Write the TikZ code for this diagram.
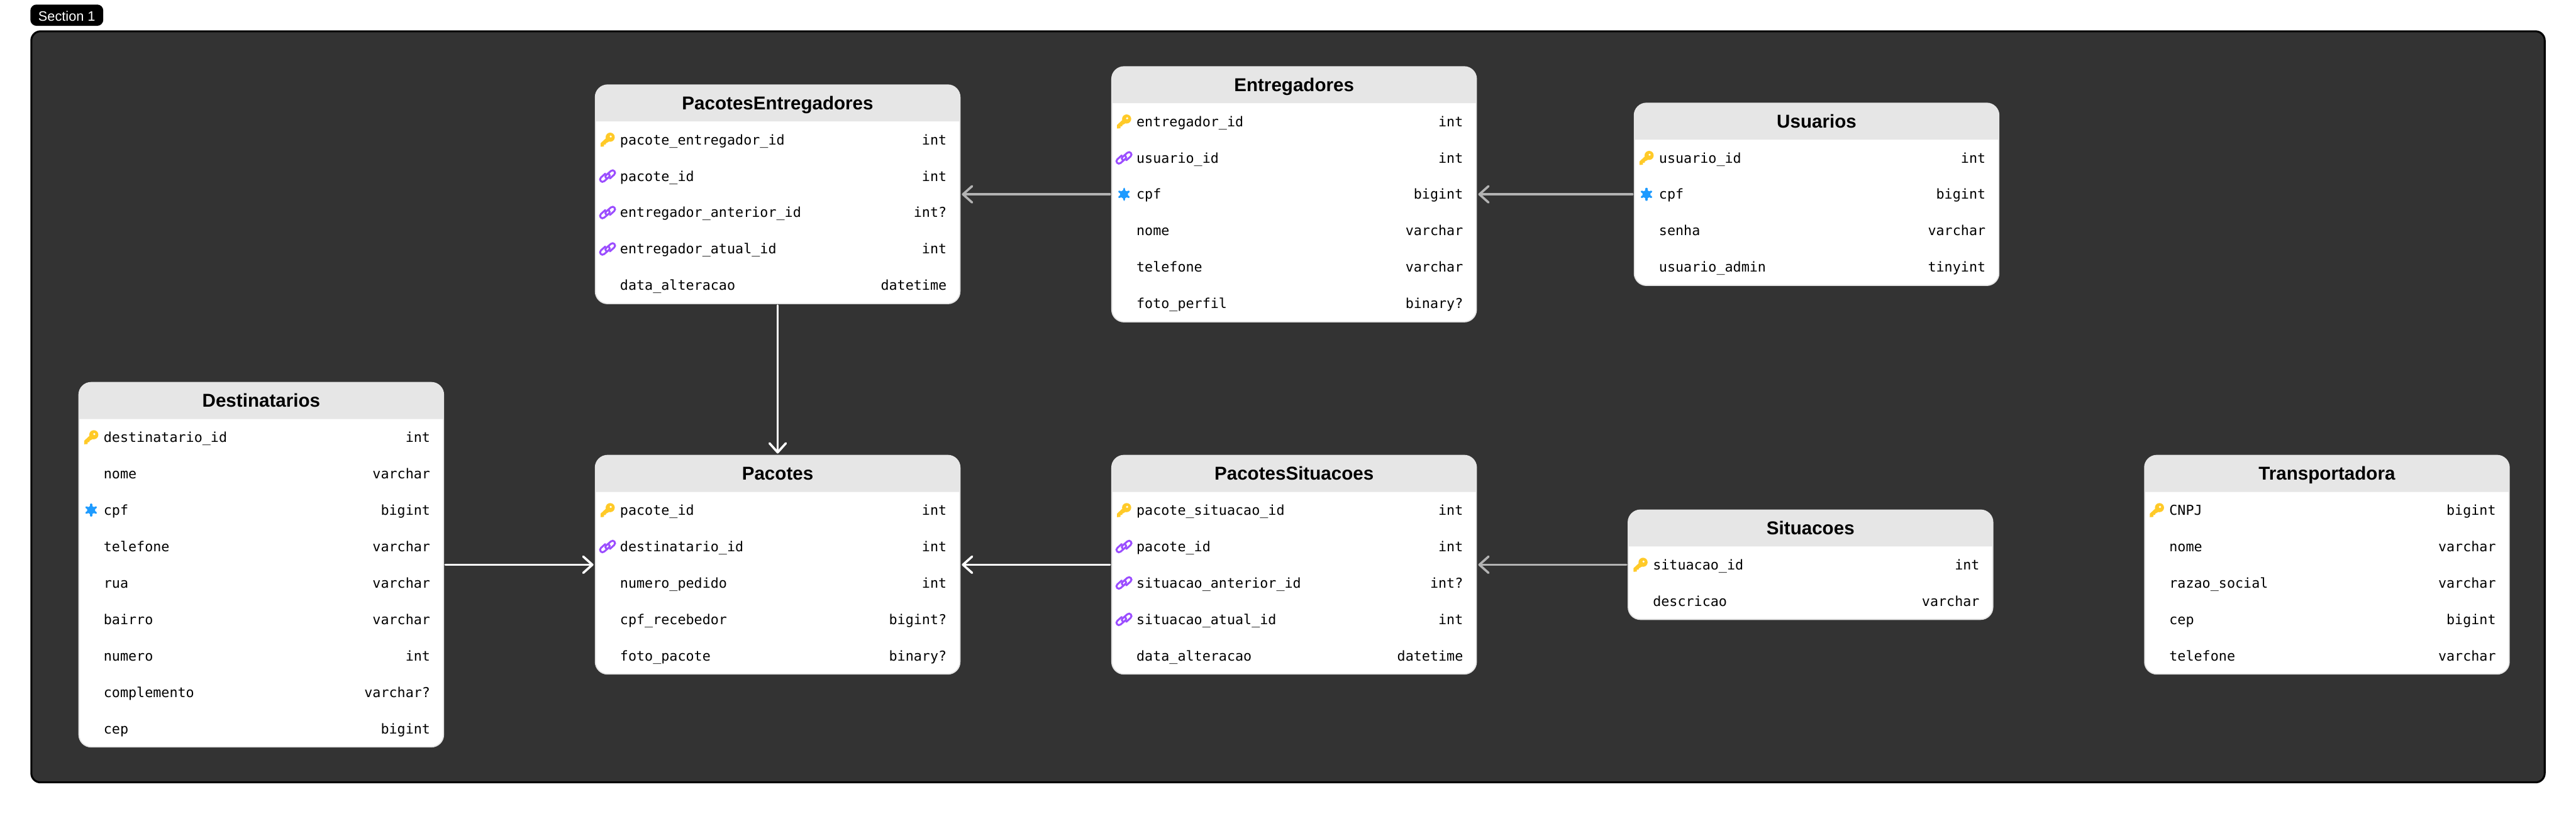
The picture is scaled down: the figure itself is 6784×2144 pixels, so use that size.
\documentclass[tikz,border=0pt]{standalone}
\usepackage{fontspec}
\setmainfont{Liberation Sans}
\newfontfamily\monof{DejaVu Sans Mono}
\usetikzlibrary{arrows.meta}
\definecolor{framefill}{HTML}{333333}
\definecolor{headfill}{HTML}{E6E6E6}
\definecolor{linkgray}{HTML}{B3B3B3}
\definecolor{keycol}{HTML}{FFCA28}
\definecolor{chaincol}{HTML}{9B4DFF}
\definecolor{flakecol}{HTML}{1E9BFF}
\tikzset{
  x=0.25pt,y=-0.25pt,
  tablebox/.style={draw=headfill,line width=0.75pt,fill=white,rounded corners=8pt,inner sep=0pt,outer sep=0pt,minimum width=240pt},
  titletext/.style={anchor=base,inner sep=0pt,outer sep=0pt,text=black,font=\fontsize{12.25}{15}\selectfont\bfseries},
  fieldname/.style={anchor=base west,inner sep=0pt,outer sep=0pt,text=black,font=\monof\fontsize{9}{11}\selectfont},
  fieldtype/.style={anchor=base east,inner sep=0pt,outer sep=0pt,text=black,font=\monof\fontsize{9}{11}\selectfont},
  rel/.style={line width=1.5pt,line cap=round,shorten <=1.25pt,shorten >=1.25pt,-{Straight Barb[length=6pt,width=10.75pt,round]}},
  relwhite/.style={rel,draw=white},
  relgray/.style={rel,draw=linkgray},
}
% field icons, in reference pixels around the row's icon centre
\newcommand{\iconn}{}
\newcommand{\iconk}{%
  \fill[keycol] (7,-6.5) circle (12);
  \fill[keycol] (-18.3,18.7) -- (-18.3,9.3) -- (-3.3,-4.7) -- (5,4.3) -- (-0.7,7.7) -- (-4,9.3)
     -- (-4.7,12.7) -- (-9.3,13.3) -- (-9.3,18) -- cycle;
  \fill[white] (8.3,-8.3) circle (3);
}
\newcommand{\chainlink}[1]{%
  \draw[chaincol,line width=1.25pt,line cap=round,rotate=#1]
    (-3.5,5.5) .. controls (-6.5,3) and (-6,0) .. (-4.3,-2)
    -- (8.7,-13.4) .. controls (15.5,-19.3) and (24,-9.5) .. (17.3,-3.6) -- (6,6.5);
}
\newcommand{\iconc}{\chainlink{0}\chainlink{180}}
\newcommand{\icons}{%
  \foreach \a in {90,30,-30,150,210,270}{
    \begin{scope}[rotate=\a]
      \draw[flakecol,line width=1.4pt,line cap=round] (0,0) -- (14.5,0);
      \draw[flakecol,line width=1.15pt,line cap=round] (5.5,-5.5) -- (10,0) -- (5.5,5.5);
    \end{scope}
  }
}
% #1 name, #2 left, #3 top, #4 rows, #5 title, #6 rows
\newcommand{\erdtable}[6]{%
  \pgfmathsetmacro\tblh{96*(#4+1)}
  \pgfmathsetmacro\tblcy{#3+\tblh/2}
  \node[tablebox,minimum height={\tblh*0.25pt}] (#1) at (#2+480,\tblcy) {};
  \fill[headfill] (#2,#3+96) [rounded corners=8pt] -- (#2,#3) -- (#2+960,#3) [sharp corners] -- (#2+960,#3+96) -- cycle;
  \node[titletext] (#1-title) at (#2+480,#3+65) {#5};
  \foreach \ic/\fn/\ty [count=\i] in {#6}{
    \pgfmathsetmacro\ry{#3+96+96*(\i-1)+48}
    \begin{scope}[shift={(#2+32,\ry)}]
      \csname icon\ic\endcsname
    \end{scope}
    \node[fieldname] (#1-f\i) at (#2+65,\ry+13) {\fn};
    \node[fieldtype] (#1-t\i) at (#2+925,\ry+13) {\ty};
  }
}
\begin{document}
\begin{tikzpicture}
\useasboundingbox (0,0) rectangle (6784,2144);
\fill[white] (0,0) rectangle (6784,2144);
\draw[fill=framefill,draw=black,line width=1.25pt,rounded corners=6pt] (82.5,82.5) rectangle (6701.5,2061.5);
\node[fill=black,rounded corners=4pt,inner sep=0pt,outer sep=0pt,minimum width=48pt,minimum height=14pt] (pill) at (176,40) {};
\node[anchor=base,inner sep=0pt,text=white,font=\fontsize{9}{11}\selectfont] (pilltext) at (176,56) {Section 1};

\erdtable{pe}{1568}{224}{5}{PacotesEntregadores}{k/pacote\_entregador\_id/int,c/pacote\_id/int,c/entregador\_anterior\_id/int?,c/entregador\_atual\_id/int,n/data\_alteracao/datetime}
\erdtable{ent}{2928}{176}{6}{Entregadores}{k/entregador\_id/int,c/usuario\_id/int,s/cpf/bigint,n/nome/varchar,n/telefone/varchar,n/foto\_perfil/binary?}
\erdtable{usu}{4304}{272}{4}{Usuarios}{k/usuario\_id/int,s/cpf/bigint,n/senha/varchar,n/usuario\_admin/tinyint}
\erdtable{dest}{208}{1008}{9}{Destinatarios}{k/destinatario\_id/int,n/nome/varchar,s/cpf/bigint,n/telefone/varchar,n/rua/varchar,n/bairro/varchar,n/numero/int,n/complemento/varchar?,n/cep/bigint}
\erdtable{pac}{1568}{1200}{5}{Pacotes}{k/pacote\_id/int,c/destinatario\_id/int,n/numero\_pedido/int,n/cpf\_recebedor/bigint?,n/foto\_pacote/binary?}
\erdtable{ps}{2928}{1200}{5}{PacotesSituacoes}{k/pacote\_situacao\_id/int,c/pacote\_id/int,c/situacao\_anterior\_id/int?,c/situacao\_atual\_id/int,n/data\_alteracao/datetime}
\erdtable{sit}{4288}{1344}{2}{Situacoes}{k/situacao\_id/int,n/descricao/varchar}
\erdtable{tra}{5648}{1200}{5}{Transportadora}{k/CNPJ/bigint,n/nome/varchar,n/razao\_social/varchar,n/cep/bigint,n/telefone/varchar}

\draw[relgray] (ent.west) -- (pe.east);
\draw[relgray] (usu.west) -- (ent.east);
\draw[relwhite] (pe.south) -- (pac.north);
\draw[relwhite] (dest.east) -- (pac.west);
\draw[relwhite] (ps.west) -- (pac.east);
\draw[relgray] (sit.west) -- (ps.east);
\end{tikzpicture}
\end{document}
